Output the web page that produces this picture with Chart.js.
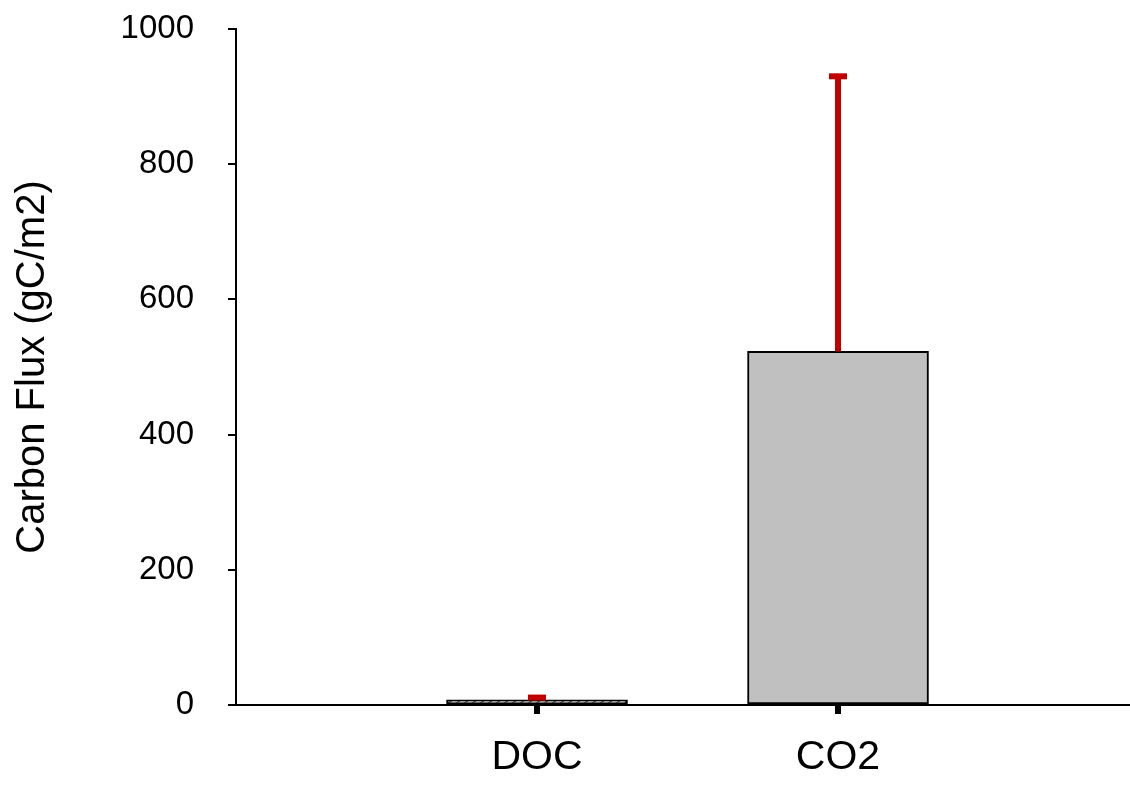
<!DOCTYPE html>
<html>
<head>
<meta charset="utf-8">
<script src="https://cdn.jsdelivr.net/npm/chart.js@4"></script>
<style>
  html, body { margin: 0; padding: 0; background: #fff; }
  #wrap { width: 1130px; height: 785px; position: relative; }
</style>
</head>
<body>
<div id="wrap"><canvas id="fluxChart"></canvas></div>
<script>
// Carbon flux per pathway, with upper error (gC/m2)
const categories = ['DOC', 'CO2'];
const fluxMeans = [7.5, 523];
const fluxErrors = [3.5, 407];
const yTicks = [0, 200, 400, 600, 800, 1000];

const FONT = '"Liberation Sans", Arial, sans-serif';

// diagonal hatch fill for the DOC bar
function makeHatch() {
    const c = document.createElement('canvas');
    c.width = 8; c.height = 8;
    const g = c.getContext('2d');
    g.fillStyle = '#ffffff';
    g.fillRect(0, 0, 8, 8);
    g.strokeStyle = '#555555';
    g.lineWidth = 2.2;
    g.beginPath();
    g.moveTo(-2, 10); g.lineTo(10, -2);
    g.moveTo(-6, 6); g.lineTo(6, -6);
    g.moveTo(2, 14); g.lineTo(14, 2);
    g.stroke();
    return g.createPattern(c, 'repeat');
}

const ctx = document.getElementById('fluxChart').getContext('2d');
const hatch = makeHatch();

const points = categories.map((c, i) => ({ x: i + 1, y: fluxMeans[i] }));

// upper error bars with caps, drawn after the bars
const errorBars = {
    id: 'errorBars',
    afterDatasetsDraw(chart) {
        const xs = chart.scales.x, ys = chart.scales.y;
        const g = chart.ctx;
        g.save();
        g.strokeStyle = '#c00000';
        g.lineWidth = 6;
        g.lineCap = 'butt';
        fluxMeans.forEach((m, i) => {
            const x = xs.getPixelForValue(i + 1);
            const yBase = ys.getPixelForValue(m);
            const yTop = ys.getPixelForValue(m + fluxErrors[i]);
            g.beginPath();
            g.moveTo(x, yBase);
            g.lineTo(x, yTop);
            g.stroke();
            g.beginPath();
            g.moveTo(x - 9, yTop);
            g.lineTo(x + 9, yTop);
            g.stroke();
        });
        g.restore();
    }
};

new Chart(ctx, {
    type: 'bar',
    data: {
        datasets: [{
            data: points,
            backgroundColor: [hatch, '#c0c0c0'],
            borderColor: '#000000',
            borderWidth: 2,
            borderSkipped: false,
            barThickness: 181
        }]
    },
    options: {
        responsive: true,
        maintainAspectRatio: false,
        animation: false,
        layout: { padding: { top: 29, right: 0, left: 0, bottom: 0 } },
        plugins: {
            legend: { display: false },
            tooltip: { enabled: false }
        },
        scales: {
            x: {
                type: 'linear',
                min: 0,
                max: 2.97,
                offset: false,
                afterBuildTicks: (axis) => {
                    axis.ticks = categories.map((c, i) => ({ value: i + 1 }));
                },
                afterFit: (axis) => { axis.height = 80; },
                ticks: {
                    callback: (v) => categories[v - 1],
                    color: '#000',
                    font: { family: FONT, size: 41 },
                    padding: 19,
                    maxRotation: 0
                },
                grid: {
                    offset: false,
                    drawOnChartArea: false,
                    drawTicks: true,
                    tickLength: 9,
                    color: '#000',
                    lineWidth: 6
                },
                border: { color: '#000', width: 2 }
            },
            y: {
                min: 0,
                max: 1000,
                afterBuildTicks: (axis) => {
                    axis.ticks = yTicks.map(v => ({ value: v }));
                },
                afterFit: (axis) => {
                    axis.width = 236;
                    // keep the wide label gap from pushing the plot top down
                    axis.paddingTop = 20;
                    axis.paddingBottom = 20;
                },
                ticks: {
                    callback: (v) => String(v),
                    color: '#000',
                    font: { family: FONT, size: 33 },
                    padding: 34
                },
                grid: {
                    drawOnChartArea: false,
                    drawTicks: true,
                    tickLength: 8,
                    color: '#000',
                    lineWidth: 2
                },
                border: { color: '#000', width: 2 },
                title: {
                    display: true,
                    text: 'Carbon Flux (gC/m2)',
                    color: '#000',
                    font: { family: FONT, size: 40, weight: 'normal' },
                    padding: { top: 9, bottom: 0 }
                }
            }
        }
    },
    plugins: [errorBars]
});
</script>
</body>
</html>
